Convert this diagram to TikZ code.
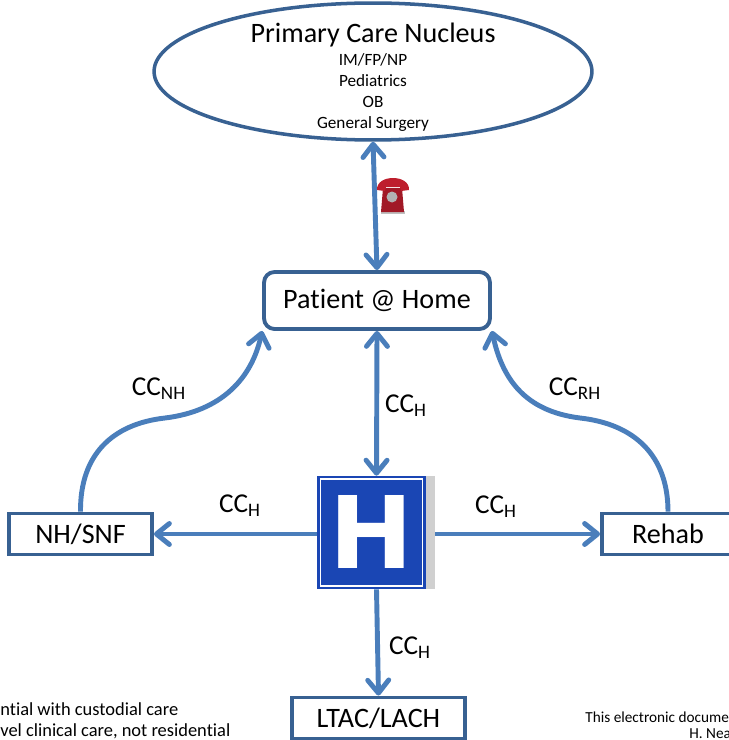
\documentclass[tikz,border=0pt]{standalone}
\usepackage{fontspec}
\setmainfont[Ligatures=NoCommon]{Carlito}
\newfontfamily\signfont{DejaVu Sans}
\usetikzlibrary{shapes.geometric, arrows.meta, positioning, calc}
\definecolor{box_blue}{RGB}{56, 97, 146}
\definecolor{link_blue}{RGB}{74, 126, 187}
\definecolor{sign_blue}{RGB}{26, 70, 180}
\definecolor{sign_gray}{RGB}{208, 208, 208}
\definecolor{phone_red}{RGB}{190, 30, 45}
\def \CC#1{CC\textsubscript{#1}}

\begin{document}
\begin{tikzpicture}[
    x=0.02cm,
    y=-0.02cm,
    nucleus/.style={
        ellipse,
        draw=box_blue,
        line width=2pt,
        minimum width=8.76cm,
        minimum height=2.74cm,
        inner sep=0pt
    },
    place/.style={
        rectangle,
        draw=box_blue,
        line width=2.2pt,
        fill=white,
        minimum width=#1,
        minimum height=0.82cm,
        font=\fontsize{16}{18}\selectfont
    },
    link/.style={
        {Straight Barb[length=0.26cm,width=0.42cm,round]}-{Straight Barb[length=0.26cm,width=0.42cm,round]},
        line width=2.8pt,
        draw=link_blue
    },
    oneway/.style={
        -{Straight Barb[length=0.26cm,width=0.42cm,round]},
        line width=2.8pt,
        draw=link_blue
    },
    care/.style={
        font=\fontsize{15.5}{18}\selectfont
    },
    note/.style={
        font=\fontsize{10.5}{12}\selectfont,
        inner sep=0pt
    }
]
\useasboundingbox (0,0) rectangle (729,740);
\clip (0,0) rectangle (729,740);

% Main nucleus node
\node[nucleus] (primary) at (373,71.5) {};
\node[align=center, inner sep=0pt] (nucleustext) at (373,77.5) {
    {\fontsize{16}{18}\selectfont Primary Care Nucleus}\\[1pt]
    {\fontsize{9.8}{12}\selectfont IM/FP/NP}\\
    {\fontsize{9.8}{12}\selectfont Pediatrics}\\
    {\fontsize{9.8}{12}\selectfont OB}\\
    {\fontsize{9.8}{12}\selectfont General Surgery}
};

% Places of care
\node[place=4.52cm, minimum height=1.14cm, rounded corners=6pt] (patient) at (377,300.5) {Patient @ Home};
\node[place=2.86cm] (nhsnf) at (80.5,534) {NH/SNF};
\node[place=2.64cm] (rehab) at (668,534) {Rehab};
\node[place=3.46cm] (ltac) at (378.5,718) {LTAC/LACH};

% Hospital sign
\node[fill=sign_gray, minimum width=2.34cm, minimum height=2.26cm, inner sep=0pt] (hospital) at (376.5,532.5) {};
\node[fill=sign_blue, draw=sign_blue, line width=0.8pt,
      minimum width=2.14cm, minimum height=2.24cm, inner sep=0pt,
      text=white, font=\signfont\bfseries\fontsize{57}{60}\selectfont] (sign) at (371.5,532.5) {\raisebox{1.1pt}{H}};
\draw[white, line width=0.8pt] ($(sign.south west)+(3,-3)$) rectangle ($(sign.north east)+(-3,3)$);

% Bends of the two curved links
\coordinate (nhbend) at (165,418);
\coordinate (rhbend) at (580,418);

% Draw connecting arrows
\draw[link] (primary.south) -- (patient.north);
\draw[link] (patient.south) -- (hospital.north);
\draw[oneway] (sign.west |- nhsnf.east) -- (nhsnf.east);
\draw[oneway] (hospital.east |- rehab.west) -- (rehab.west);
\draw[oneway] (hospital.south) -- (ltac.north);
\draw[oneway] (nhsnf.north) .. controls (80,455) and (112,424) .. (nhbend)
    .. controls (222,411) and (252,378) .. (patient.south west);
\draw[oneway] (rehab.north) .. controls (668,455) and (634,424) .. (rhbend)
    .. controls (524,411) and (502,378) .. (patient.south east);

% Link labels
\node[care] (ccnh) at (159,389) {\CC{NH}};
\node[care] (ccrh) at (575,389) {\CC{RH}};
\node[care] (ccup) at (406,406) {\CC{H}};
\node[care] (ccleft) at (240,506) {\CC{H}};
\node[care] (ccright) at (496,507) {\CC{H}};
\node[care] (ccdown) at (410,648) {\CC{H}};

% Telephone
\fill[gray!50] (381,211) rectangle (405,214);
\fill[phone_red!85!black] (381,212) -- (383,188) -- (402,188) -- (404,212) -- cycle;
\fill[phone_red] (377,190) .. controls (376,174) and (410,174) .. (409,190)
    -- (401,191) -- (400,187) -- (386,187) -- (385,191) -- cycle;
\fill[gray!60] (392,197) circle (5.5);

% Footnotes, cut by the page edge
\node[note, anchor=west] (noteone) at (0,709) {ntial with custodial care};
\node[note, anchor=west] (notetwo) at (0,731) {vel clinical care, not residential};
\node[note, anchor=west, font=\fontsize{8.7}{10}\selectfont] (docone) at (585,717) {This electronic docume};
\node[note, anchor=west, font=\fontsize{8.7}{10}\selectfont] (doctwo) at (689,734) {H. Nea};

\end{tikzpicture}
\end{document}
